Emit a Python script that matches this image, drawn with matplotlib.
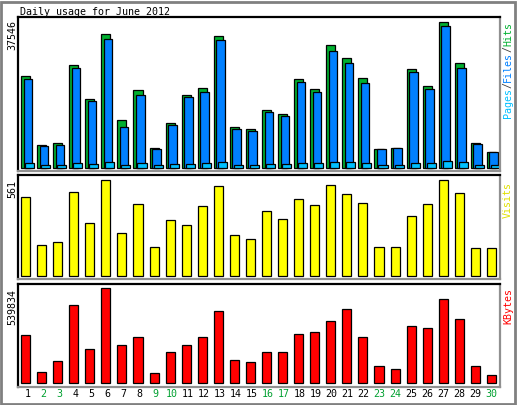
import matplotlib
matplotlib.use("Agg")
import matplotlib.pyplot as plt
from matplotlib.patches import Rectangle
import numpy as np

# --- data ---
days = list(range(1, 31))
weekend = [2, 3, 9, 10, 16, 17, 23, 24, 30]
hits = [23600, 5780, 6300, 26440, 17740, 34520, 12240, 20060, 5090, 11540,
        18770, 20500, 34000, 10510, 9990, 14820, 13870, 22830, 20240, 31680,
        28250, 23080, 4830, 5090, 25480, 21090, 37546, 27030, 6380, 4050]
files = [22900, 5600, 5860, 25660, 17220, 33230, 10510, 18770, 4830, 11030,
         18250, 19550, 32970, 9990, 9480, 14300, 13350, 22050, 19470, 30130,
         27030, 21870, 4750, 5010, 24630, 20320, 36510, 25740, 6120, 4050]
pages = [1210, 700, 700, 1210, 950, 1470, 700, 1210, 700, 950,
         950, 1210, 1470, 700, 700, 950, 950, 1210, 1210, 1470,
         1470, 1210, 700, 700, 1210, 1210, 1730, 1470, 700, 700]
visits = [461, 178, 198, 490, 310, 561, 251, 422, 167, 326,
          296, 410, 528, 237, 214, 379, 332, 449, 414, 532,
          479, 426, 167, 167, 349, 420, 561, 484, 161, 161]
kbytes = [274600, 64400, 126900, 445100, 195100, 539834, 217800, 263300, 58700, 178000,
          217800, 263300, 411000, 132600, 121200, 178000, 178000, 280300, 291700, 354200,
          422400, 263300, 98500, 81400, 325800, 314400, 479200, 365500, 98500, 47400]

W, H = 517, 405
FONT = "DejaVu Sans Mono"
FS = 7.2
C_HITS, C_FILES, C_PAGES = "#00b030", "#0080ff", "#00c0ff"

fig = plt.figure(figsize=(W / 100, H / 100), dpi=100)
fig.patch.set_facecolor("white")


def px_axes(x0, y0, x1, y1):
    return fig.add_axes([x0 / W, 1 - y1 / H, (x1 - x0) / W, (y1 - y0) / H])


def style(ax):
    ax.set_xlim(0, 30)
    ax.set_xticks([])
    ax.set_yticks([])
    for s in ax.spines.values():
        s.set_linewidth(1.6)
        s.set_color("black")
    ax.spines["right"].set_color("#909090")
    ax.spines["bottom"].set_color("#909090")


x = np.array(days) - 1.0
bw = 9 / 16
lw = 0.9

# top panel
ax1 = px_axes(18, 17, 500, 171)
ax1.bar(x + 3 / 16, hits, bw, align="edge", color=C_HITS, edgecolor="black", linewidth=lw)
ax1.bar(x + 5.5 / 16, files, 8.5 / 16, align="edge", color=C_FILES, edgecolor="black", linewidth=lw)
ax1.bar(x + 7 / 16, pages, bw, align="edge", color=C_PAGES, edgecolor="black", linewidth=lw)
ax1.set_ylim(-852, 38914)
style(ax1)

# middle panel
ax2 = px_axes(18, 175, 500, 279)
ax2.bar(x + 3 / 16, visits, bw, align="edge", color="#ffff00", edgecolor="black", linewidth=lw)
ax2.set_ylim(-19.4, 592)
style(ax2)

# bottom panel
ax3 = px_axes(18, 284, 500, 387)
ax3.bar(x + 3 / 16, kbytes, bw, align="edge", color="#ff0000", edgecolor="black", linewidth=lw)
ax3.set_ylim(-21000, 564300)
style(ax3)

# texts
fig.text(20 / W, 1 - 12 / H, "Daily usage for June 2012", family=FONT, fontsize=FS,
         ha="left", va="center")
for val, ytop in [("37546", 20), ("561", 180), ("539834", 289)]:
    fig.text(12 / W, 1 - ytop / H, val, family=FONT, fontsize=FS, rotation=90,
             ha="center", va="top")

for d in days:
    fig.text((18 + 16 * (d - 1) + 9.5) / W, 1 - 394 / H, str(d), family=FONT, fontsize=FS,
             ha="center", va="center", color="#00a030" if d in weekend else "black")


def right_label(parts, ybottom):
    y = ybottom
    for txt, col in parts:
        fig.text(508 / W, 1 - y / H, txt, family=FONT, fontsize=FS, rotation=90,
                 rotation_mode="anchor", ha="left", va="center", color=col)
        y -= 6 * len(txt)


right_label([("Pages", C_PAGES), ("/", "#404040"), ("Files", C_FILES), ("/", "#404040"),
             ("Hits", C_HITS)], 118)
right_label([("Visits", "#e0e000")], 218)
right_label([("KBytes", "#ff0000")], 324)

# outer frame
fig.patches.append(Rectangle((1 / W, 1 / H), (W - 3) / W, (H - 3) / H, transform=fig.transFigure,
                             fill=False, edgecolor="#808080", linewidth=2))

fig.savefig("out.png", dpi=100)
